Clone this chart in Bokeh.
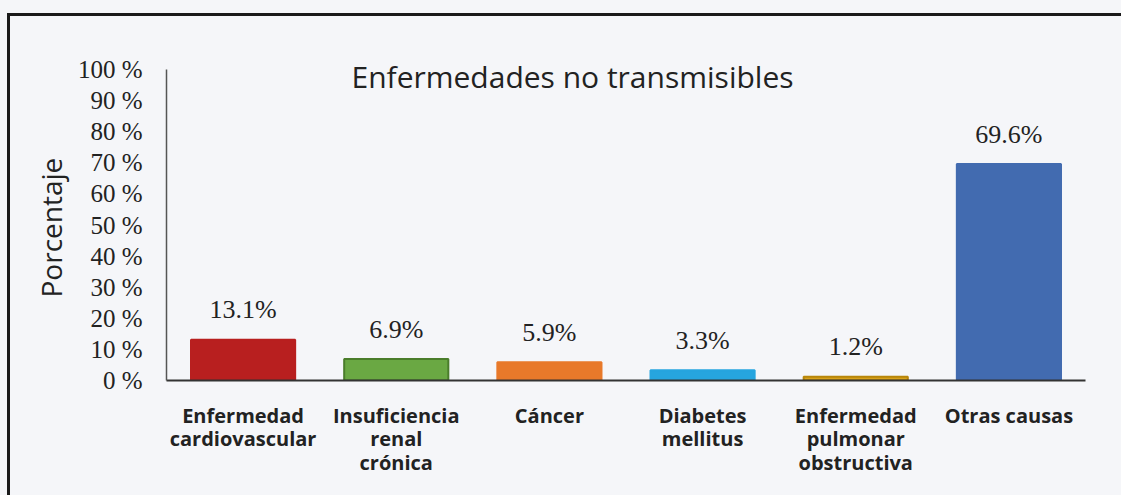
from bokeh.plotting import figure
from bokeh.models import ColumnDataSource, Label, FixedTicker, Title
from bokeh.embed import file_html
from bokeh.resources import INLINE
from bokeh.core.properties import value

# ---- data ----
categories = ["Enfermedad\ncardiovascular", "Insuficiencia\nrenal\ncrónica", "Cáncer",
              "Diabetes\nmellitus", "Enfermedad\npulmonar\nobstructiva", "Otras causas"]
percentages = [13.1, 6.9, 5.9, 3.3, 1.2, 69.6]
fill_colors = ["#b81f1f", "#6aa843", "#e8792a", "#26a5df", "#d9a21a", "#426bb0"]
line_colors = ["#b81f1f", "#4a7d2b", "#e8792a", "#26a5df", "#b8860b", "#426bb0"]
y_ticks = [0, 10, 20, 30, 40, 50, 60, 70, 80, 90, 100]
y_tick_labels = [f"{t} %" for t in y_ticks]
title_text = "Enfermedades no transmisibles"
y_title = "Porcentaje"

src = ColumnDataSource(dict(
    cat=categories, val=percentages, fill=fill_colors, line=line_colors,
    lab=[f"{v:.1f}%" for v in percentages],
))

BG = "#f5f6f9"
p = figure(width=1121, height=495, x_range=categories, y_range=(0, 110),
           output_backend="svg", toolbar_location=None,
           min_border_left=166, min_border_right=36, min_border_top=38, min_border_bottom=115)
p.background_fill_color = BG
p.border_fill_color = None
p.outline_line_color = None
p.grid.grid_line_color = None
p.styles = {
    "background": ("linear-gradient(#1a1a1a,#1a1a1a) 7px 13px / 100% 3px no-repeat, "
                   "linear-gradient(#1a1a1a,#1a1a1a) 7px 13px / 3px 100% no-repeat, " + BG)
}

p.vbar(x="cat", top="val", width=0.68, source=src, fill_color="fill",
       line_color="line", line_width=2)
p.text(x="cat", y="val", text="lab", source=src, text_align="center",
       text_baseline="alphabetic", y_offset=-30, text_font=value("Liberation Serif"),
       text_font_size="26px", text_color="#222222")

# y axis
ya = p.yaxis[0]
ya.bounds = (0, 100)
ya.ticker = FixedTicker(ticks=y_ticks)
ya.major_label_overrides = {t: l for t, l in zip(y_ticks, y_tick_labels)}
ya.major_label_text_font = "Liberation Serif"
ya.major_label_text_font_size = "25px"
ya.major_label_text_color = "#222222"
ya.major_tick_line_color = None
ya.minor_tick_line_color = None
ya.major_label_standoff = 18
ya.axis_line_color = "#555555"
ya.axis_line_width = 1.5

# y-axis title, placed along the 0-100 % axis
p.add_layout(Title(text=y_title, align="left", offset=83, standoff=10,
                   text_font="Open Sans", text_font_style="normal",
                   text_font_size="28px", text_color="#222222"), "left")

# x axis
xa = p.xaxis[0]
xa.major_label_text_font = "Open Sans"
xa.major_label_text_font_style = "bold"
xa.major_label_text_font_size = "20px"
xa.major_label_text_line_height = 0.88
xa.major_label_text_color = "#222222"
xa.major_tick_line_color = None
xa.minor_tick_line_color = None
xa.major_label_standoff = 15
xa.axis_line_color = "#333333"
xa.axis_line_width = 2

# chart title inside chart area
p.add_layout(Label(x=406, x_units="screen", y=97.8, text=title_text,
                   text_align="center", text_baseline="middle",
                   text_font="Open Sans", text_font_size="30px", text_color="#222222"))

open("out.html", "w").write(file_html(p, INLINE))
